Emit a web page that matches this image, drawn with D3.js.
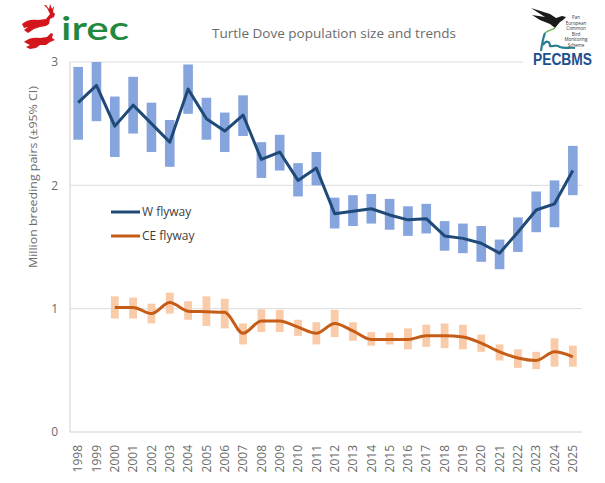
<!DOCTYPE html>
<html>
<head>
<meta charset="utf-8">
<script src="https://cdn.jsdelivr.net/npm/d3@7"></script>
<style>
  html, body { margin: 0; padding: 0; background: #ffffff; }
  svg { display: block; font-family: "Open Sans", "Liberation Sans", sans-serif; }
</style>
</head>
<body>
<svg id="chart" width="605" height="483"></svg>
<script>
// ---- Data ----
const years = ["1998","1999","2000","2001","2002","2003","2004","2005","2006","2007","2008","2009","2010","2011","2012","2013","2014","2015","2016","2017","2018","2019","2020","2021","2022","2023","2024","2025"];
const wValue = [2.67,2.81,2.48,2.65,2.50,2.35,2.78,2.54,2.44,2.57,2.21,2.27,2.04,2.14,1.77,1.79,1.81,1.76,1.72,1.73,1.59,1.57,1.53,1.45,1.62,1.80,1.85,2.12];
const wLow   = [2.37,2.52,2.23,2.42,2.27,2.15,2.58,2.37,2.27,2.40,2.06,2.12,1.91,2.00,1.65,1.67,1.69,1.64,1.59,1.61,1.47,1.45,1.38,1.32,1.46,1.62,1.66,1.92];
const wHigh  = [2.96,3.00,2.72,2.88,2.67,2.53,2.98,2.71,2.59,2.73,2.35,2.41,2.18,2.27,1.90,1.92,1.93,1.89,1.83,1.85,1.71,1.69,1.67,1.56,1.74,1.95,2.04,2.32];
const ceYears = years.slice(2);
const ceValue = [1.01,1.01,0.96,1.05,0.98,0.975,0.97,0.80,0.90,0.90,0.85,0.80,0.88,0.82,0.75,0.75,0.75,0.78,0.78,0.77,0.72,0.65,0.60,0.58,0.65,0.61];
const ceLow   = [0.92,0.92,0.88,0.96,0.91,0.86,0.84,0.71,0.81,0.81,0.78,0.71,0.77,0.74,0.70,0.71,0.67,0.69,0.68,0.67,0.65,0.58,0.52,0.51,0.53,0.53];
const ceHigh  = [1.10,1.09,1.04,1.13,1.06,1.10,1.08,0.88,0.995,0.99,0.91,0.89,0.99,0.89,0.81,0.805,0.84,0.87,0.88,0.87,0.79,0.71,0.67,0.65,0.76,0.70];
const yTicks = [0,1,2,3];
const seriesNames = ["W flyway","CE flyway"];
const titleText = "Turtle Dove population size and trends";
const yTitle = "Million breeding pairs (±95% CI)";

// ---- Layout ----
const svg = d3.select("#chart");
const x = d3.scaleBand().domain(years).range([69, 582]).padding(0);
const y = d3.scaleLinear().domain([0, 3]).range([432, 62]);
const cx = d => x(d) + x.bandwidth() / 2;

const wColBar = "#86a4dd", wColLine = "#1f4a78";
const ceColBar = "#f9cba9", ceColLine = "#c65d17";

// gridlines
svg.append("g").selectAll("line").data(yTicks.filter(t => t > 0)).join("line")
  .attr("x1", 70).attr("x2", 582)
  .attr("y1", d => y(d)).attr("y2", d => y(d))
  .attr("stroke", "#dcdcdc").attr("stroke-width", 1);
// axis lines
svg.append("line").attr("x1", 70).attr("x2", 70).attr("y1", y(3)).attr("y2", y(0))
  .attr("stroke", "#d0d0d0");
svg.append("line").attr("x1", 70).attr("x2", 582).attr("y1", y(0)).attr("y2", y(0))
  .attr("stroke", "#d0d0d0");

// y axis labels
const yAxis = d3.axisLeft(y).tickValues(yTicks).tickSize(0).tickPadding(0).tickFormat(d3.format("d"));
const gy = svg.append("g").attr("transform", "translate(58,0)").call(yAxis);
gy.select(".domain").remove();
gy.selectAll("text").attr("fill", "#6b6b6b").style("font-size", "12px")
  .style("font-family", "'Open Sans', sans-serif");

// x axis labels
const xAxis = d3.axisBottom(x).tickSize(0).tickPadding(0);
const gx = svg.append("g").attr("transform", "translate(0,442)").call(xAxis);
gx.select(".domain").remove();
gx.selectAll("text")
  .attr("transform", "rotate(-90)")
  .attr("x", -3).attr("y", 0).attr("dy", "0.35em")
  .attr("text-anchor", "end")
  .attr("fill", "#6b6b6b").style("font-size", "12px")
  .style("font-family", "'Open Sans', sans-serif");

// W bars
svg.append("g").selectAll("rect").data(years).join("rect")
  .attr("x", d => cx(d) - 4.8).attr("width", 9.6)
  .attr("y", (d, i) => y(wHigh[i])).attr("height", (d, i) => y(wLow[i]) - y(wHigh[i]))
  .attr("fill", wColBar);
// CE bars
svg.append("g").selectAll("rect").data(ceYears).join("rect")
  .attr("x", d => cx(d) - 3.9).attr("width", 7.8)
  .attr("y", (d, i) => y(ceHigh[i])).attr("height", (d, i) => y(ceLow[i]) - y(ceHigh[i]))
  .attr("fill", ceColBar);

// lines
const lineW = d3.line().x((d, i) => cx(years[i])).y(d => y(d));
svg.append("path").datum(wValue).attr("d", lineW)
  .attr("fill", "none").attr("stroke", wColLine).attr("stroke-width", 3).attr("stroke-linejoin", "round");
const lineCE = d3.line().x((d, i) => cx(ceYears[i])).y(d => y(d)).curve(d3.curveMonotoneX);
svg.append("path").datum(ceValue).attr("d", lineCE)
  .attr("fill", "none").attr("stroke", ceColLine).attr("stroke-width", 3).attr("stroke-linejoin", "round");

// legend
const legend = svg.append("g");
[[wColLine, 212], [ceColLine, 236]].forEach((c, i) => {
  legend.append("line").attr("x1", 111).attr("x2", 140).attr("y1", c[1]).attr("y2", c[1])
    .attr("stroke", c[0]).attr("stroke-width", 3);
  legend.append("text").attr("x", 142).attr("y", c[1]).attr("dy", "0.35em")
    .attr("fill", "#404040").style("font-size", "12px").text(seriesNames[i]);
});

// titles
svg.append("text").attr("x", 334).attr("y", 33).attr("dy", "0.35em").attr("text-anchor", "middle")
  .attr("fill", "#6b6b6b").style("font-size", "13.5px").text(titleText);
svg.append("text").attr("transform", "translate(33,177) rotate(-90)").attr("dy", "0.35em")
  .attr("text-anchor", "middle").attr("fill", "#6b6b6b").style("font-size", "11.5px")
  .attr("textLength", 182).attr("lengthAdjust", "spacingAndGlyphs").text(yTitle);

// ---- irec logo ----
const irec = svg.append("g");
// upper deer (leaping right, antlers)
irec.append("path").attr("fill", "#d4161c").attr("d",
  "M22,24 C26,20 32,19 38,20 L46,19 L50,14 L47,8 L44,5 L46,5 L49,9 L50,4 L52,9 L54,6 L53,12 L55,14 L54,17 L50,19 L49,24 L46,26 L40,27 L34,29 L28,33 L24,30 L28,27 L24,28 Z");
// lower deer
irec.append("path").attr("fill", "#d4161c").attr("d",
  "M24,42 C28,38 34,37 40,38 L47,37 L51,33 L53,34 L52,38 L55,40 L50,42 L46,45 L40,45 L36,48 L30,49 L26,47 L30,45 Z");
irec.append("text").attr("x", 61).attr("y", 40).attr("fill", "#1f8a3f")
  .attr("textLength", 68).attr("lengthAdjust", "spacingAndGlyphs")
  .style("font-size", "32px").style("font-family", "Lato, 'Open Sans', sans-serif").style("font-weight", "600").text("irec");

// ---- PECBMS logo ----
const pec = svg.append("g");
pec.append("rect").attr("x", 523).attr("y", 0).attr("width", 82).attr("height", 70).attr("fill", "#ffffff");
pec.append("path").attr("fill", "#1a1a1a").attr("d",
  "M531,8 L550,14 L556,18 L562,16 L566,17 L563,20 L560,22 L555,28 L550,24 L540,20 L532,15 L545,17 Z");
pec.append("path").attr("fill", "none").attr("stroke", "#2a7f8f").attr("stroke-width", 2.2).attr("d",
  "M541,51 C542,44 543,38 545,33 M543,45 C546,40 550,41 550,46 C552,47 556,44 560,47 C565,49 570,47 575,48");
pec.append("path").attr("fill", "none").attr("stroke", "#6ab04c").attr("stroke-width", 1.4).attr("d",
  "M545,33 C548,30 552,30 555,28");
const small = ["Pan","European","Common","Bird","Monitoring","Scheme"];
pec.selectAll("text.s").data(small).join("text").attr("class", "s")
  .attr("x", 576).attr("y", (d, i) => 19 + i * 5.5).attr("text-anchor", "middle")
  .attr("fill", "#333").style("font-size", "4.5px").text(d => d);
pec.append("text").attr("x", 533).attr("y", 65).attr("fill", "#1c4f8f")
  .attr("textLength", 59).attr("lengthAdjust", "spacingAndGlyphs")
  .style("font-size", "16px").style("font-weight", "700").style("font-family", "'Liberation Sans Narrow', 'Liberation Sans', sans-serif").text("PECBMS");
</script>
</body>
</html>
